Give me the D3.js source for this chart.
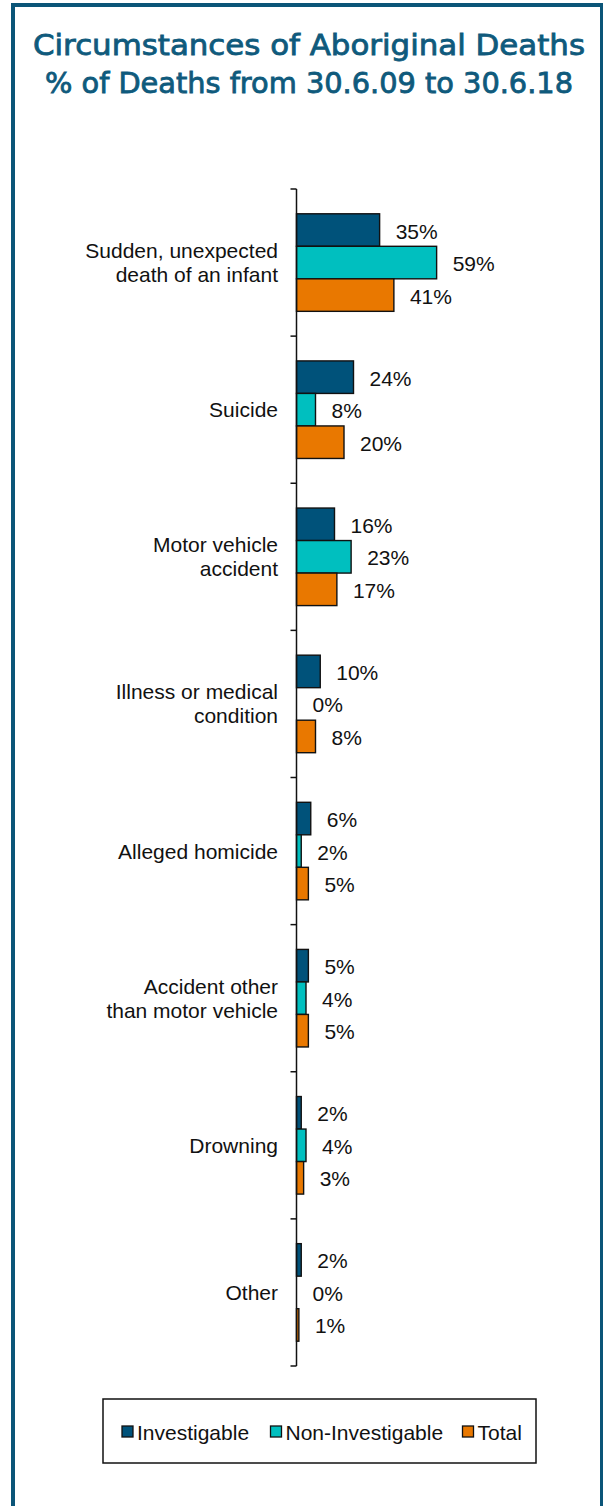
<!DOCTYPE html>
<html>
<head>
<meta charset="utf-8">
<script src="https://cdn.jsdelivr.net/npm/d3@7"></script>
<style>
  html, body { margin: 0; padding: 0; background: #fff; }
  svg { display: block; }
</style>
</head>
<body>
<div id="chart"></div>
<script>
// Data: percentage of deaths by circumstance
const categories = [
  ["Sudden, unexpected", "death of an infant"],
  ["Suicide"],
  ["Motor vehicle", "accident"],
  ["Illness or medical", "condition"],
  ["Alleged homicide"],
  ["Accident other", "than motor vehicle"],
  ["Drowning"],
  ["Other"]
];
const seriesNames = ["Investigable", "Non-Investigable", "Total"];
const investigable    = [35, 24, 16, 10, 6, 5, 2, 2];
const nonInvestigable = [59, 8, 23, 0, 2, 4, 4, 0];
const total           = [41, 20, 17, 8, 5, 5, 3, 1];
const titleLines = ["Circumstances of Aboriginal Deaths", "% of Deaths from 30.6.09 to 30.6.18"];

const seriesValues = [investigable, nonInvestigable, total];
const colors = ["#00527a", "#00bfbf", "#e97800"];
const W = 603, H = 1506;
const font = "'Liberation Sans', Arial, sans-serif";
const fs = 21;

const svg = d3.select("#chart").append("svg")
  .attr("width", W).attr("height", H);

// Frame
svg.append("rect")
  .attr("x", 13).attr("y", 5).attr("width", 589).attr("height", 1600)
  .attr("fill", "none").attr("stroke", "#0b5578").attr("stroke-width", 4);

// Title
const titleSpec = [{ y: 55, len: 552 }, { y: 92.5, len: 528 }];
svg.selectAll("text.title").data(titleLines).join("text")
  .attr("class", "title")
  .attr("x", 309).attr("y", (d, i) => titleSpec[i].y)
  .attr("text-anchor", "middle")
  .attr("font-family", "'DejaVu Sans', Verdana, sans-serif")
  .attr("font-size", 27.5)
  .attr("textLength", (d, i) => titleSpec[i].len)
  .attr("lengthAdjust", "spacingAndGlyphs")
  .attr("fill", "#0f5a7c")
  .attr("stroke", "#0f5a7c")
  .attr("stroke-width", 0.8)
  .text(d => d);

// Scales
const axisTop = 189, axisBottom = 1366;
const x0 = 296.5;
const x = d3.scaleLinear().domain([0, 100]).range([x0, x0 + 237.5]);
const y = d3.scaleBand().domain(d3.range(categories.length)).range([axisTop, axisBottom]).paddingInner(0.337).paddingOuter(0.1685);
const ySub = d3.scaleBand().domain(d3.range(seriesNames.length)).range([0, y.bandwidth()]);

const plot = svg.append("g");

// Bars
const rows = [];
categories.forEach((c, ci) => seriesValues.forEach((vals, si) => rows.push({ ci, si, v: vals[ci] })));

plot.selectAll("rect.bar").data(rows.filter(d => d.v > 0)).join("rect")
  .attr("class", "bar")
  .attr("x", x(0))
  .attr("y", d => y(d.ci) + ySub(d.si))
  .attr("width", d => x(d.v) - x(0))
  .attr("height", ySub.bandwidth())
  .attr("fill", d => colors[d.si])
  .attr("stroke", "#111")
  .attr("stroke-width", 1.4);

// Value labels
plot.selectAll("text.val").data(rows).join("text")
  .attr("class", "val")
  .attr("x", d => x(d.v) + 16)
  .attr("y", d => y(d.ci) + ySub(d.si) + ySub.bandwidth() / 2 + 1)
  .attr("dominant-baseline", "central")
  .attr("font-family", font).attr("font-size", fs).attr("fill", "#111")
  .text(d => d.v + "%");

// Category axis
plot.append("line")
  .attr("x1", x0).attr("x2", x0).attr("y1", axisTop).attr("y2", axisBottom)
  .attr("stroke", "#111").attr("stroke-width", 1.5);
const tickYs = d3.range(categories.length + 1).map(i => axisTop + i * (axisBottom - axisTop) / categories.length);
plot.selectAll("line.tick").data(tickYs).join("line")
  .attr("class", "tick")
  .attr("x1", x0 - 6).attr("x2", x0).attr("y1", d => d).attr("y2", d => d)
  .attr("stroke", "#111").attr("stroke-width", 1.5);

// Category labels
const lineH = 24;
const catG = plot.selectAll("text.cat").data(categories).join("text")
  .attr("class", "cat")
  .attr("text-anchor", "end")
  .attr("font-family", font).attr("font-size", fs).attr("fill", "#111");
catG.each(function(lines, i) {
  const cy = y(i) + y.bandwidth() / 2;
  const t = d3.select(this);
  lines.forEach((ln, k) => {
    t.append("tspan")
      .attr("x", 278)
      .attr("y", cy + (k - (lines.length - 1) / 2) * lineH)
      .attr("dominant-baseline", "central")
      .text(ln);
  });
});

// Legend
const leg = svg.append("g");
leg.append("rect")
  .attr("x", 103).attr("y", 1399).attr("width", 433).attr("height", 64)
  .attr("fill", "#fff").attr("stroke", "#111").attr("stroke-width", 1.5);
const legX = [122, 270.5, 462.5];
const items = leg.selectAll("g.item").data(seriesNames).join("g")
  .attr("class", "item")
  .attr("transform", (d, i) => `translate(${legX[i]},1432)`);
items.append("rect")
  .attr("x", 0).attr("y", -6).attr("width", 11).attr("height", 11)
  .attr("fill", (d, i) => colors[i]).attr("stroke", "#111").attr("stroke-width", 1.3);
items.append("text")
  .attr("x", 15).attr("y", 0)
  .attr("dominant-baseline", "central")
  .attr("font-family", font).attr("font-size", fs).attr("fill", "#111")
  .text(d => d);
</script>
</body>
</html>
